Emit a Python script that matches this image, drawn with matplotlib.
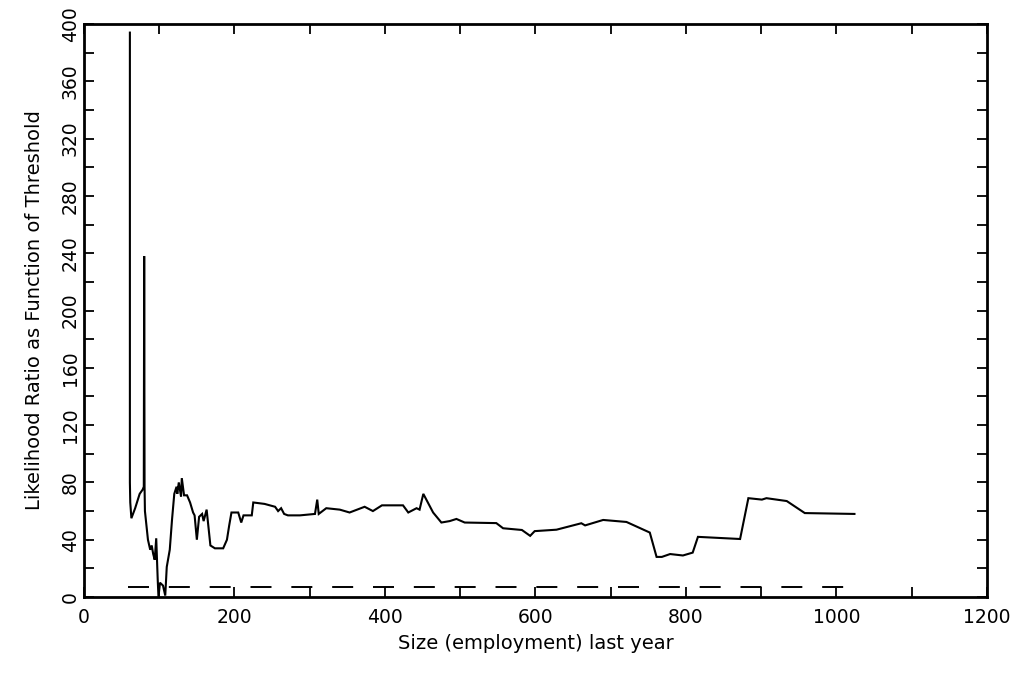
import matplotlib
matplotlib.use("Agg")
import matplotlib.pyplot as plt
from matplotlib.ticker import MultipleLocator

# likelihood ratio vs. threshold size
size = [61, 61, 61.5, 63, 68, 74, 78, 79.5, 80, 80.5, 81, 85, 88, 90, 92, 94, 96, 98,
        99, 101, 105, 108, 110, 114, 117, 120, 123, 124, 126, 129, 130, 133, 137,
        141, 145, 147, 150, 153, 157, 159, 163, 165, 168, 174, 185, 190, 193, 196,
        205, 209, 212, 223, 225, 240, 254, 258, 262, 266, 271, 287, 307, 310, 312,
        322, 340, 353, 373, 384, 396, 424, 431, 442, 446, 451, 457, 464, 475, 486,
        495, 506, 548, 557, 582, 593, 599, 628, 650, 661, 666, 690, 721, 752, 761,
        768, 779, 796, 809, 816, 872, 883, 901, 907, 934, 958, 1024]
ratio = [394, 80, 66, 55, 62, 72, 75, 77, 238, 77, 60, 40, 33, 36, 30, 26, 41, 12,
         0, 10, 8, 1, 21, 33, 54, 72, 77, 72, 80, 70, 83, 71, 71,
         66, 59, 57, 40, 56, 58, 53, 61, 51, 36, 34, 34, 40, 50, 59,
         59, 52, 57, 57, 66, 65, 63, 60, 62, 58, 57, 57, 58, 68, 58,
         62, 61, 59, 63, 60, 64, 64, 59, 62, 61, 72, 66, 59, 52, 53,
         54.5, 52, 51.6, 48, 46.8, 42.7, 46, 47, 50, 51.5, 50, 53.8, 52.4, 45, 28,
         28, 30, 29, 31, 42, 40.5, 69, 68, 69, 67, 58.6, 58]

# critical value
crit_x = [58, 1025]
crit_y = [7, 7]

plt.rcParams['font.family'] = ['DejaVu Sans']

fig = plt.figure(figsize=(10.28, 6.82), dpi=100)
ax = fig.add_axes([0.0817, 0.1246, 0.8783, 0.8402])

ax.plot(size, ratio, color='black', lw=1.5, solid_joinstyle='miter')
dl, = ax.plot(crit_x, crit_y, color='black', lw=1.4)
dl.set_dashes([10.8, 10.2])

ax.set_xlim(0, 1200)
ax.set_ylim(0, 400)
ax.xaxis.set_major_locator(MultipleLocator(200))
ax.xaxis.set_minor_locator(MultipleLocator(100))
ax.yaxis.set_major_locator(MultipleLocator(40))
ax.yaxis.set_minor_locator(MultipleLocator(20))

ax.tick_params(which='both', direction='in', top=True, right=True,
               length=7, width=1.3, labelsize=13.5)
ax.tick_params(axis='x', pad=8)
ax.tick_params(axis='y', pad=3)
for lab in ax.get_yticklabels():
    lab.set_rotation(90)
    lab.set_va('center')

for sp in ax.spines.values():
    sp.set_linewidth(2)

ax.set_xlabel('Size (employment) last year', fontsize=14, labelpad=5)
ax.set_ylabel('Likelihood Ratio as Function of Threshold', fontsize=14, labelpad=12)

fig.savefig('out.png', dpi=100)
